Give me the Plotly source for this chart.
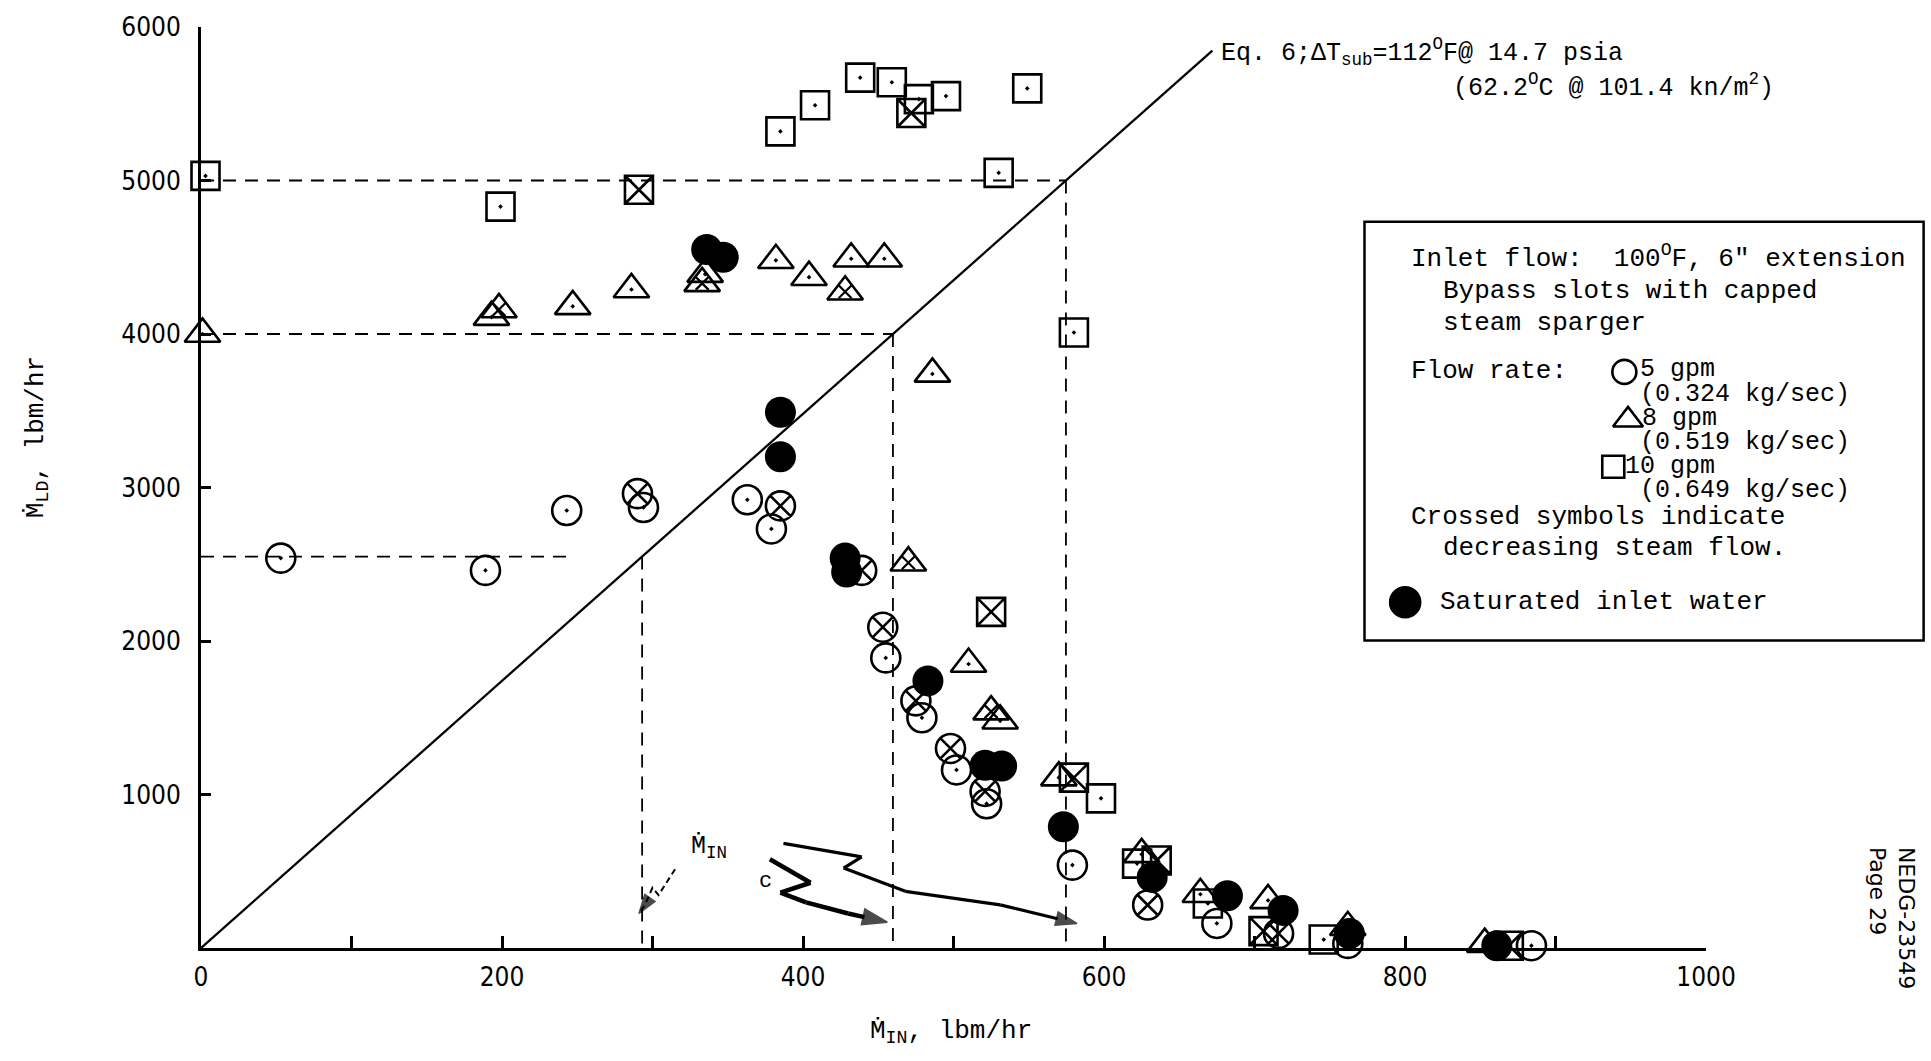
import plotly.graph_objects as go

# ---------------- data (lbm/hr) ----------------
# 5 gpm, open circles
circ_x = [53, 189, 243, 294, 363, 379, 455, 479, 502, 522, 579, 675, 762, 884]
circ_y = [2540, 2460, 2850, 2870, 2920, 2730, 1890, 1500, 1160, 940, 540, 160, 30, 15]
# 5 gpm, crossed circles (decreasing steam flow)
circx_x = [290, 385, 439, 453, 475, 498, 521, 629, 716]
circx_y = [2960, 2880, 2460, 2090, 1610, 1300, 1020, 280, 95]
# 8 gpm, open triangles
tri_x = [1, 193, 247, 286, 335, 382, 404, 432, 454, 486, 510, 531, 570, 625, 664, 709, 762, 853]
tri_y = [4000, 4110, 4180, 4290, 4390, 4480, 4370, 4490, 4490, 3740, 1850, 1480, 1110, 610, 350, 310, 135, 25]
# 8 gpm, crossed triangles
trix_x = [198, 333, 428, 470, 525]
trix_y = [4160, 4330, 4275, 2510, 1540]
# 10 gpm, open squares
sq_x = [3, 199, 385, 408, 438, 459, 477, 495, 549, 530, 580, 598, 622, 669, 746]
sq_y = [5030, 4830, 5320, 5490, 5670, 5640, 5530, 5550, 5600, 5050, 4010, 975, 550, 290, 55]
# 10 gpm, crossed squares
sqx_x = [291, 472, 525, 580, 635, 706, 869]
sqx_y = [4940, 5440, 2190, 1110, 570, 110, 15]
# saturated inlet water, filled circles
sat_x = [336, 347, 385, 385, 428, 429, 483, 521, 532, 573, 632, 682, 719, 763, 861]
sat_y = [4550, 4500, 3490, 3200, 2540, 2450, 1740, 1190, 1185, 790, 460, 340, 245, 95, 15]

# Eq. 6 line and critical-flow guides
EQ6_SLOPE = 8.7
EQ6_X_END = 672
GUIDE_LEVELS = [2550, 4000, 5000]
GUIDE_H_STOP = [248, None, None]

# hand-drawn arrows pointing to critical inlet flows (decorations)
arrow1_x = [315, 304, 300, 295, 291]
arrow1_y = [513, 345, 393, 281, 225]
arrow2_x = [378, 405, 385, 402, 430, 456]
arrow2_y = [578, 425, 361, 297, 225, 168]
arrow3_x = [387, 439, 427, 468, 531, 582]
arrow3_y = [682, 594, 521, 369, 281, 160]

x_ticks = list(range(0, 1001, 200))
y_ticks = list(range(1000, 6001, 1000))

# ---------------- figure ----------------
FIG_W, FIG_H = 1931, 1061
ML, MR, MT, MB = 201, 225, 27, 113
PW, PH = FIG_W - ML - MR, FIG_H - MT - MB
SCALE = 1931 / 1568


def paper(sx, sy):
    fx, fy = sx * SCALE, sy * SCALE
    return (fx - ML) / PW, (MT + PH - fy) / PH


MONO = "Liberation Mono, Courier New, monospace"
NARROW = "DejaVu Sans Condensed, Liberation Sans Narrow, Arial Narrow, sans-serif"
LW = 2.6

tick_font = dict(family=NARROW, size=30, color="black")
try:
    go.layout.xaxis.Tickfont(stretch="condensed")
    tick_font["stretch"] = "condensed"
except Exception:
    tick_font["size"] = 26

fig = go.Figure()

# guides
for lvl, stop in zip(GUIDE_LEVELS, GUIDE_H_STOP):
    xi = lvl / EQ6_SLOPE
    fig.add_trace(go.Scatter(x=[0, stop if stop else xi], y=[lvl, lvl], mode="lines",
                             line=dict(color="black", width=1.8, dash="13px,9px"),
                             hoverinfo="skip"))
    fig.add_trace(go.Scatter(x=[xi, xi], y=[lvl, 0], mode="lines",
                             line=dict(color="black", width=1.8, dash="13px,9px"),
                             hoverinfo="skip"))

# Eq. 6 line
fig.add_trace(go.Scatter(x=[0, EQ6_X_END], y=[0, EQ6_SLOPE * EQ6_X_END], mode="lines",
                         line=dict(color="black", width=2.3), hoverinfo="skip"))

# arrows (lines with an arrow-shaped marker at the tip, oriented along the path)
for ax_, ay_, w, dash, head in [(arrow1_x, arrow1_y, 2, "6px,4px", 20),
                                (arrow2_x, arrow2_y, 4.5, "solid", 26),
                                (arrow3_x, arrow3_y, 3.2, "solid", 22)]:
    sizes = [0] * (len(ax_) - 1) + [head]
    fig.add_trace(go.Scatter(x=ax_, y=ay_, mode="lines+markers", hoverinfo="skip",
                             cliponaxis=False,
                             line=dict(color="black", width=w, dash=dash),
                             marker=dict(symbol="arrow", size=sizes, angleref="previous",
                                         color="black", line=dict(width=1.5, color="black"))))

common = dict(mode="markers", cliponaxis=False, hoverinfo="x+y")
fig.add_trace(go.Scatter(x=sq_x, y=sq_y, marker=dict(symbol="square-open-dot", size=28,
                         color="black", line=dict(color="black", width=LW)), **common))
fig.add_trace(go.Scatter(x=sqx_x, y=sqx_y, marker=dict(symbol="square-x-open", size=28,
                         color="black", line=dict(color="black", width=LW)), **common))
fig.add_trace(go.Scatter(x=tri_x, y=tri_y, marker=dict(symbol="triangle-up-open-dot", size=31,
                         color="black", line=dict(color="black", width=LW)), **common))
fig.add_trace(go.Scatter(x=trix_x, y=trix_y, marker=dict(symbol="triangle-up-open", size=31,
                         color="black", line=dict(color="black", width=LW)), **common))
fig.add_trace(go.Scatter(x=trix_x, y=trix_y, marker=dict(symbol="x-thin-open", size=13,
                         color="black", line=dict(color="black", width=2.2)), **common))
fig.add_trace(go.Scatter(x=circ_x, y=circ_y, marker=dict(symbol="circle-open-dot", size=29,
                         color="black", line=dict(color="black", width=LW)), **common))
fig.add_trace(go.Scatter(x=circx_x, y=circx_y, marker=dict(symbol="circle-x-open", size=29,
                         color="black", line=dict(color="black", width=LW)), **common))
fig.add_trace(go.Scatter(x=sat_x, y=sat_y, marker=dict(symbol="circle", size=31,
                         color="black", line=dict(color="black", width=0)), **common))


# legend symbols (inside legend box)
def data_of(sx, sy):
    px, py = paper(sx, sy)
    return px * 1000, py * 6000


leg_syms = [((1319, 302), "circle-open", 24), ((1322, 341), "triangle-up-open", 26),
            ((1310, 379), "square-open", 22), ((1141, 489), "circle", 30)]
for (sx, sy), sym, sz in leg_syms:
    dx, dy = data_of(sx, sy)
    fig.add_trace(go.Scatter(x=[dx], y=[dy], mode="markers", cliponaxis=False, hoverinfo="skip",
                             marker=dict(symbol=sym, size=sz, color="black",
                                         line=dict(color="black", width=LW))))

# legend box
x0, y0 = paper(1108, 180)
x1, y1 = paper(1562, 520)
fig.add_shape(type="rect", xref="paper", yref="paper", x0=x0, y0=y0, x1=x1, y1=y1,
              line=dict(color="black", width=2.5), fillcolor="rgba(0,0,0,0)")


def note(sx, sy, text, size=26, anchor="left", family=MONO, angle=0, valign="middle"):
    px, py = paper(sx, sy)
    fig.add_annotation(x=px, y=py, xref="paper", yref="paper", text=text, showarrow=False,
                       xanchor=anchor, yanchor=valign, textangle=angle,
                       font=dict(family=family, size=size, color="black"), align="left")


note(1144, 209, "Inlet flow:  100<sup>O</sup>F, 6\" extension")
note(1170, 236, "Bypass slots with capped")
note(1170, 262, "steam sparger")
note(1144, 301, "Flow rate:")
note(1330, 300, "5 gpm", size=25)
note(1330, 320, "(0.324 kg/sec)", size=25)
note(1332, 340, "8 gpm", size=25)
note(1330, 359, "(0.519 kg/sec)", size=25)
note(1318, 379, "10 gpm", size=25)
note(1330, 398, "(0.649 kg/sec)", size=25)
note(1144, 420, "Crossed symbols indicate")
note(1170, 445, "decreasing steam flow.")
note(1168, 489, "Saturated inlet water")

note(990, 42, "Eq. 6;ΔT<sub>sub</sub>=112<sup>O</sup>F@ 14.7 psia", size=25)
note(1178, 70, "(62.2<sup>O</sup>C @ 101.4 kn/m<sup>2</sup>)", size=25)

note(576, 688, "Ṁ<sub>IN</sub>", size=25, anchor="center")
note(622, 716, "c", size=22, anchor="center")

note(30, 355, "Ṁ<sub>LD</sub>, lbm/hr", size=26, anchor="center", angle=-90)
note(772, 838, "Ṁ<sub>IN</sub>, lbm/hr", size=26, anchor="center")

note(1536, 745, "NEDG-23549<br>Page 29", size=22, anchor="center",
     family="DejaVu Sans, sans-serif", angle=90)

fig.update_layout(
    width=FIG_W, height=FIG_H, showlegend=False,
    paper_bgcolor="white", plot_bgcolor="white",
    margin=dict(l=ML, r=MR, t=MT, b=MB, pad=0),
    xaxis=dict(range=[0, 1000], showgrid=False, zeroline=False, showline=True,
               linecolor="black", linewidth=3, ticks="inside", ticklen=12, tickwidth=2.5,
               tickcolor="black", tickvals=x_ticks,
               minor=dict(ticks="inside", dtick=100, ticklen=12, tickwidth=2.5,
                          tickcolor="black", showgrid=False),
               tickfont=tick_font, ticklabelstandoff=4),
    yaxis=dict(range=[0, 6000], showgrid=False, zeroline=False, showline=True,
               linecolor="black", linewidth=3, ticks="inside", ticklen=10, tickwidth=2.5,
               tickcolor="black", tickvals=y_ticks,
               tickfont=tick_font, ticklabelstandoff=12),
)

fig.write_html("out.html")
